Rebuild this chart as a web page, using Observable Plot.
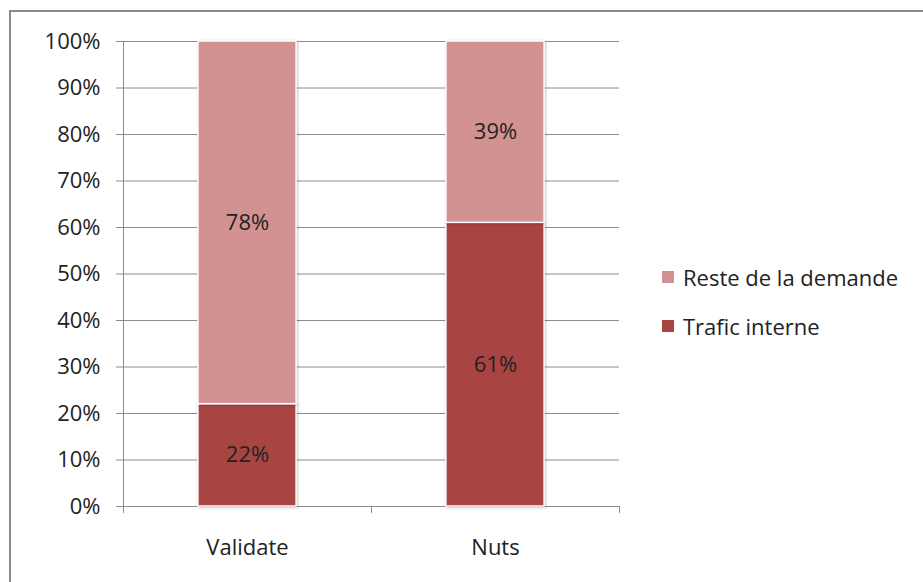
<!DOCTYPE html>
<html>
<head>
<meta charset="utf-8">
<script src="https://cdn.jsdelivr.net/npm/d3@7"></script>
<script src="https://cdn.jsdelivr.net/npm/@observablehq/plot@0.6"></script>
<style>
  html, body { margin: 0; padding: 0; background: #fff; }
  #wrap { position: relative; width: 923px; height: 582px; overflow: hidden; font-family: "Open Sans", sans-serif; }
  #frame { position: absolute; left: 9px; top: 10px; width: 940px; height: 600px; border-left: 2px solid #8a8a8a; border-top: 2px solid #8a8a8a; pointer-events: none; }
  #legend { position: absolute; left: 662px; top: 252px; font-size: 22px; color: #222; }
  #legend .item { display: flex; align-items: center; height: 49px; }
  #legend .sw { width: 12px; height: 12px; margin-right: 9px; }
  svg rect.seg { filter: drop-shadow(1px 1px 1.5px rgba(0,0,0,0.22)); }
</style>
</head>
<body>
<div id="wrap">
  <div id="chart"></div>
  <div id="frame"></div>
  <div id="legend"></div>
</div>
<script>
const categories = ["Validate", "Nuts"];
const series = ["Trafic interne", "Reste de la demande"];
const traficInterne = [0.22, 0.61];
const resteDemande = [0.78, 0.39];
const colors = ["#A84543", "#D39292"];
const yTicks = [0, 0.1, 0.2, 0.3, 0.4, 0.5, 0.6, 0.7, 0.8, 0.9, 1.0];

const barHalf = 0.198;
const rows = [];
categories.forEach((c, i) => {
  const vals = [traficInterne[i], resteDemande[i]];
  let acc = 0;
  vals.forEach((v, k) => {
    rows.push({cat: c, idx: i, series: series[k], value: v, y1: acc, y2: acc + v});
    acc += v;
  });
});

const chart = Plot.plot({
  width: 923,
  height: 582,
  marginLeft: 123,
  marginRight: 304,
  marginTop: 41,
  marginBottom: 76,
  style: {fontFamily: "'Open Sans', sans-serif", fontSize: "22px", color: "#222", background: "#fff"},
  x: {type: "linear", domain: [0, categories.length]},
  y: {domain: [0, 1]},
  color: {domain: series, range: colors},
  marks: [
    Plot.gridY(yTicks, {stroke: "#8c8c8c", strokeOpacity: 1, strokeWidth: 1}),
    Plot.axisY(yTicks, {tickFormat: d3.format(".0%"), tickSize: 7, tickPadding: 16, stroke: "#8c8c8c", fill: "#222", fontSize: 22, label: null}),
    Plot.ruleX([0], {y1: 1, y2: -0.015, stroke: "#8c8c8c"}),
    Plot.ruleX(d3.range(1, categories.length + 1), {y1: 0, y2: -0.015, stroke: "#8c8c8c"}),
    Plot.axisX(categories.map((c, i) => i + 0.5), {tickFormat: (d) => categories[Math.floor(d)], tickSize: 0, tickPadding: 33, fontSize: 22, fill: "#222", label: null}),
    Plot.rectY(rows, {x1: (d) => d.idx + 0.5 - barHalf, x2: (d) => d.idx + 0.5 + barHalf, y1: "y1", y2: "y2", fill: "series", stroke: "#fff", strokeWidth: 1.5}),
    Plot.text(rows, {x: (d) => d.idx + 0.5, y: (d) => (d.y1 + d.y2) / 2, text: (d) => d3.format(".0%")(d.value), fill: "#222", fontSize: 22})
  ]
});
chart.querySelectorAll("g[aria-label='rect'] rect").forEach(r => r.classList.add("seg"));
document.getElementById("chart").append(chart);

const legend = document.getElementById("legend");
[1, 0].forEach(k => {
  const item = document.createElement("div");
  item.className = "item";
  const sw = document.createElement("div");
  sw.className = "sw";
  sw.style.background = colors[k];
  const t = document.createElement("span");
  t.textContent = series[k];
  item.append(sw, t);
  legend.append(item);
});
</script>
</body>
</html>
